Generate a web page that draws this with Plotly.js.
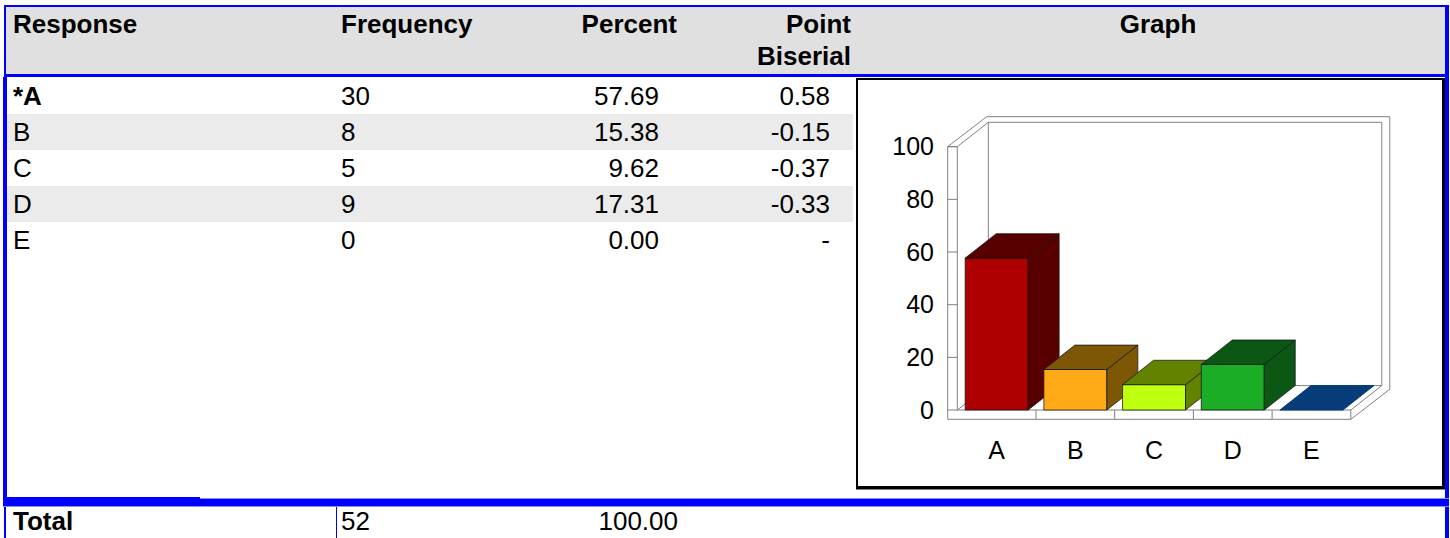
<!DOCTYPE html>
<html><head><meta charset="utf-8">
<script src="https://cdn.plot.ly/plotly-3.0.1.min.js"></script>
<style>
html,body{margin:0;padding:0;background:#fff;width:1450px;height:538px;overflow:hidden;font-family:Arial,"Liberation Sans",sans-serif;}
.abs{position:absolute;}
.t{position:absolute;font-size:26px;line-height:36px;white-space:nowrap;color:#000;}
.t span{display:inline-block;}
.l{text-align:left;}
.r{text-align:right;}
.c{text-align:center;}
.b{font-weight:bold;}
</style></head><body>
<div id="page"></div>
<div id="chartbox" class="abs" style="left:856px;top:78px;width:584px;height:406px;border-left:2px solid #000;border-top:2px solid #000;border-right:3px solid #000;border-bottom:3px solid #000;box-shadow:0 1px 0 #888;"></div>
<div id="chart" class="abs" style="left:858px;top:80px;width:584px;height:406px;"></div>
<script>
// ---------- data ----------
const responses = ['*A','B','C','D','E'];
const categories = ['A','B','C','D','E'];
const frequency = [30, 8, 5, 9, 0];
const percent = [57.69, 15.38, 9.62, 17.31, 0.00];
const pointBiserial = ['0.58', '-0.15', '-0.37', '-0.33', '-'];
const headers = ['Response', 'Frequency', 'Percent', 'Point|Biserial', 'Graph'];
const totalLabel = 'Total';
const totalFrequency = 52;
const totalPercent = 100.00;
const yTicks = [0, 20, 40, 60, 80, 100];
const frontColors = ['#ae0000', '#ffaa16', '#bfff10', '#1aad25', '#1478f0'];
const darkColors  = ['#580000', '#7d5706', '#628200', '#0b5713', '#063c78'];

// ---------- page decoration ----------
const page = document.getElementById('page');
function box(l, t, w, h, bg) {
  const d = document.createElement('div');
  d.className = 'abs';
  d.style.cssText = `left:${l}px;top:${t}px;width:${w}px;height:${h}px;background:${bg};`;
  page.appendChild(d);
}
function text(str, cls, pos, lh) {
  const d = document.createElement('div');
  d.className = 't ' + cls;
  let s = '';
  for (const k in pos) s += `${k}:${pos[k]}px;`;
  if (lh) s += `line-height:${lh}px;`;
  d.style.cssText = s;
  d.innerHTML = str.split('|').map(x => `<span>${x}</span>`).join('<br>');
  page.appendChild(d);
}
const BLUE = '#0000ff';
box(6, 7, 1439, 67, '#e0e0e0');
box(4, 5, 1445, 2, BLUE);
box(4, 74, 1445, 3, BLUE);
box(4, 5, 2, 72, BLUE);
box(3, 77, 4, 429, BLUE);
box(4, 506, 2, 32, BLUE);
box(1445, 5, 4, 533, BLUE);
box(3, 498, 1446, 1, '#8c8cff');
box(3, 499, 1446, 7, BLUE);
box(3, 497, 197, 2, BLUE);
box(3, 506, 1446, 1, '#8c8cff');
box(336, 507, 1, 31, BLUE);
// alternating row bands
for (let i = 0; i < responses.length; i++) {
  if (i % 2 === 1) box(7, 78 + 36 * i, 846, 36, '#ebebeb');
}
// header texts
const HT = 8;
text(headers[0], 'l b', {left: 13, top: HT}, 32);
text(headers[1], 'l b', {left: 341, top: HT}, 32);
text(headers[2], 'r b', {right: 1450 - 677, top: HT}, 32);
text(headers[3], 'r b', {right: 1450 - 851, top: HT}, 32);
text(headers[4], 'c b', {left: 866, width: 584, top: HT}, 32);
// rows
for (let i = 0; i < responses.length; i++) {
  const top = 78 + 36 * i;
  text(responses[i], 'l' + (responses[i].startsWith('*') ? ' b' : ''), {left: 13, top: top});
  text(String(frequency[i]), 'l', {left: 341, top: top});
  text(percent[i].toFixed(2), 'r', {right: 1450 - 659, top: top});
  text(pointBiserial[i], 'r', {right: 1450 - 830, top: top});
}
// total row
text(totalLabel, 'l b', {left: 13, top: 505}, 32);
text(String(totalFrequency), 'l', {left: 341, top: 505}, 32);
text(totalPercent.toFixed(2), 'r', {right: 1450 - 678, top: 505}, 32);

// ---------- chart ----------
const PX_X = 78.7;      // pixels per category
const PX_Y = 2.633;     // pixels per percent
const BAR_HALF = 0.4;
const DX = 31 / PX_X, DY = 24.4 / PX_Y;      // bar / inner depth
const ODX = 39 / PX_X, ODY = 30 / PX_Y;      // outer depth
const WALL = 9.6 / PX_X;                     // left wall thickness
const FLOOR = 9.3 / PX_Y;                    // floor thickness
const n = categories.length;
const xIn = -0.5, xOut = -0.5 - WALL, xEnd = n - 0.5;
const yTop = yTicks[yTicks.length - 1];

function path(pts, close) {
  return 'M' + pts.map(p => p[0] + ',' + p[1]).join('L') + (close ? 'Z' : '');
}
const GRAY = '#808080';
const shapes = [];
function addShape(pts, close, fill) {
  shapes.push({type: 'path', xref: 'x', yref: 'y', layer: 'below',
    path: path(pts, close), fillcolor: fill || 'rgba(0,0,0,0)',
    line: {color: GRAY, width: 1}});
}
// silhouette of frame
addShape([[xOut, yTop], [xOut + ODX, yTop + ODY], [xEnd + ODX, yTop + ODY],
          [xEnd + ODX, -FLOOR + ODY], [xEnd, -FLOOR], [xOut, -FLOOR]], true, '#ffffff');
// back wall front face
addShape([[xIn + DX, yTop + DY], [xEnd + DX, yTop + DY], [xEnd + DX, DY], [xIn + DX, DY]], true);
// left wall inner edges
addShape([[xOut, yTop], [xIn, yTop], [xIn + DX, yTop + DY]], false);
addShape([[xIn, yTop], [xIn, 0], [xEnd, 0], [xEnd, -FLOOR]], false);
addShape([[xIn, 0], [xIn + DX, DY]], false);
addShape([[xEnd, 0], [xEnd + DX, DY]], false);
// category separators on floor
for (let i = 1; i < n; i++) addShape([[i - 0.5, 0], [i - 0.5, -FLOOR]], false);
// tick marks on left wall
yTicks.forEach(v => addShape([[xOut, v], [xIn, v]], false));

// bars (drawn left to right so that later fronts cover earlier sides)
const traces = [];
function poly(pts, fill, lineColor) {
  traces.push({type: 'scatter', mode: 'lines', fill: 'toself', fillcolor: fill,
    x: pts.map(p => p[0]).concat([pts[0][0]]), y: pts.map(p => p[1]).concat([pts[0][1]]),
    line: {color: lineColor, width: 1}, hoverinfo: 'skip'});
}
for (let i = 0; i < n; i++) {
  const v = percent[i], x0 = i - BAR_HALF, x1 = i + BAR_HALF;
  const edge = 'rgba(20,20,20,0.75)';
  if (v > 0) {
    poly([[x0, 0], [x1, 0], [x1, v], [x0, v]], frontColors[i], edge);
    poly([[x1, 0], [x1 + DX, DY], [x1 + DX, v + DY], [x1, v]], darkColors[i], edge);
    poly([[x0, v], [x1, v], [x1 + DX, v + DY], [x0 + DX, v + DY]], darkColors[i], edge);
  } else {
    poly([[x0, v], [x1, v], [x1 + DX, v + DY], [x0 + DX, v + DY]], darkColors[i], darkColors[i]);
  }
}

const W = 584, H = 406;
const mL = 80, mR = 42, mT = 30, mB = 60;
const plotLeftPage = 858 + mL, plotBottomPage = 80 + H - mB;
const xCenterA = 996.65, yZeroPage = 410;
const xmin = (plotLeftPage - xCenterA) / PX_X;
const xmax = xmin + (W - mL - mR) / PX_X;
const ymin = -(plotBottomPage - yZeroPage) / PX_Y;
const ymax = ymin + (H - mT - mB) / PX_Y;

const font = {family: 'Arial, "Liberation Sans", sans-serif', size: 25, color: '#000'};
Plotly.newPlot('chart', traces, {
  width: W, height: H,
  margin: {l: mL, r: mR, t: mT, b: mB, pad: 0},
  paper_bgcolor: 'rgba(0,0,0,0)', plot_bgcolor: 'rgba(0,0,0,0)',
  showlegend: false,
  shapes: shapes,
  xaxis: {range: [xmin, xmax], tickvals: categories.map((c, i) => i), ticktext: categories,
    showgrid: false, zeroline: false, showline: false, ticks: '', tickfont: font,
    ticklabelstandoff: 7, fixedrange: true},
  yaxis: {range: [ymin, ymax], tickvals: yTicks, ticktext: yTicks.map(String),
    showgrid: false, zeroline: false, showline: false, ticks: '', tickfont: font,
    ticklabelstandoff: 3, fixedrange: true}
}, {staticPlot: true, displayModeBar: false});
</script>
</body></html>
